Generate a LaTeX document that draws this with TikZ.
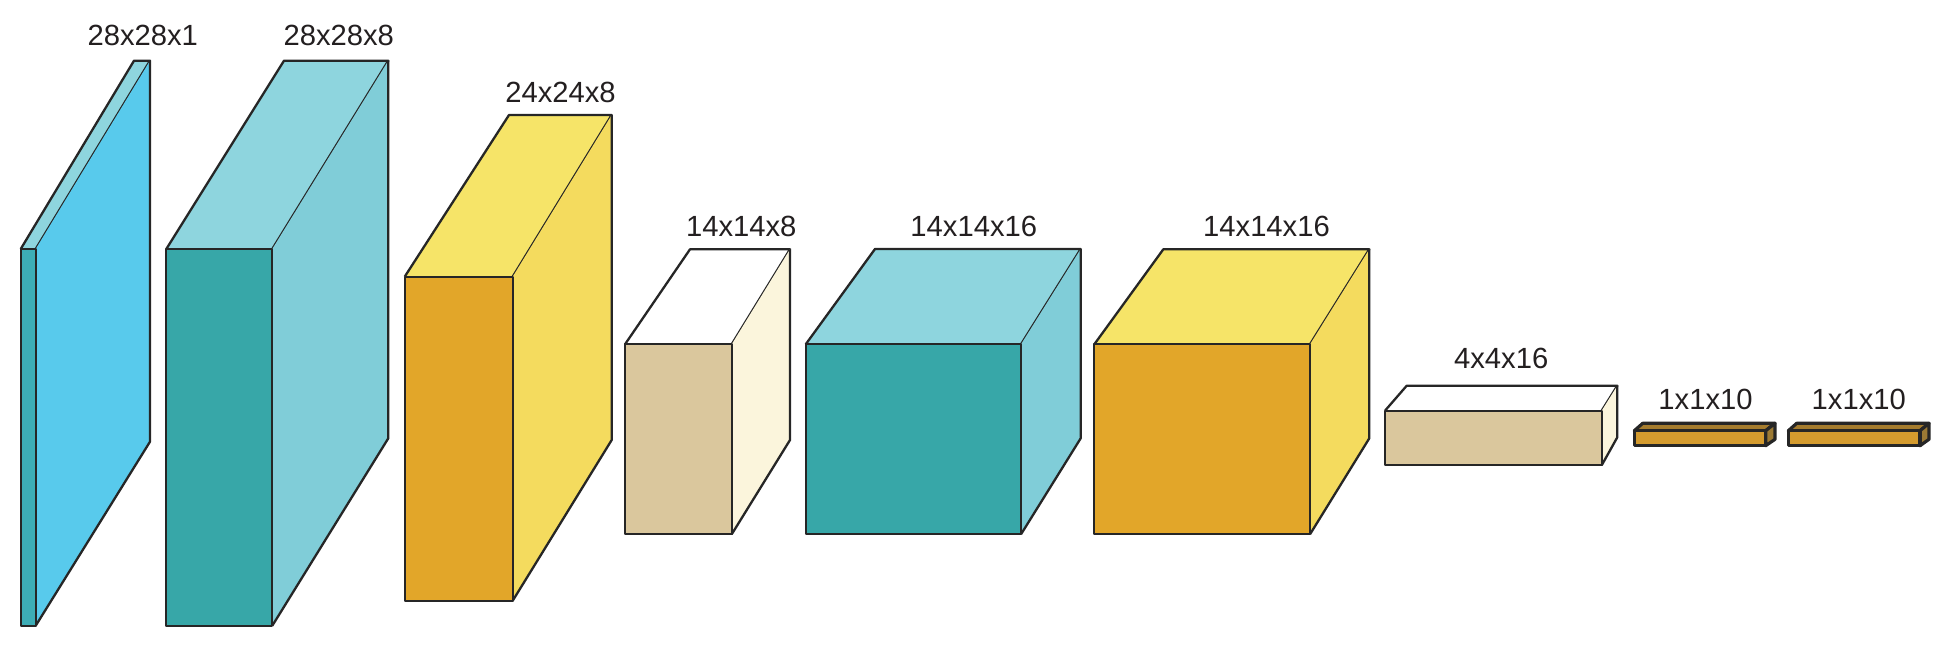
\documentclass[tikz,border=0pt]{standalone}
\usepackage{fontspec}
\setmainfont{Liberation Sans}
\definecolor{fr-teal}{HTML}{37A7A8}
\definecolor{tp-teal}{HTML}{8ED5DE}
\definecolor{sd-teal}{HTML}{80CDD8}
\definecolor{fr-in}{HTML}{3DADB6}
\definecolor{tp-in}{HTML}{8ED5DE}
\definecolor{sd-in}{HTML}{58CAEC}
\definecolor{fr-gold}{HTML}{E2A629}
\definecolor{tp-gold}{HTML}{F6E468}
\definecolor{sd-gold}{HTML}{F4DB5E}
\definecolor{fr-tan}{HTML}{DAC79D}
\definecolor{tp-tan}{HTML}{FFFFFF}
\definecolor{sd-tan}{HTML}{FBF5DC}
\definecolor{fr-out}{HTML}{D49B2E}
\definecolor{tp-out}{HTML}{A57C2E}
\definecolor{sd-out}{HTML}{9C7A34}
\definecolor{edge}{HTML}{262626}
\definecolor{labeltext}{HTML}{231F20}
\tikzset{
  face/.style={draw=edge, line width=1.15pt, line join=round},
  thickface/.style={draw=edge, line width=1.6pt, line join=round},
  dimlabel/.style={anchor=base, inner sep=0pt, text=labeltext, font=\fontsize{14.6}{17}\selectfont}
}
% #1 xL  #2 xR  #3 yT  #4 yB  (front face)
% #5 back xL  #6 back xR  #7 back yT  #8 back yB  #9 colour scheme
\newcommand\cuboid[9]{%
  \fill[tp-#9] (#1,#3) -- (#5,#7) -- (#6,#7) -- (#2,#3) -- cycle;
  \draw[face]  (#1,#3) -- (#5,#7) -- (#6,#7) -- (#2,#3);
  \fill[sd-#9] (#2,#3) -- (#6,#7) -- (#6,#8) -- (#2,#4) -- cycle;
  \draw[face]  (#6,#7) -- (#6,#8) -- (#2,#4);
  \filldraw[face, fill=fr-#9] (#1,#3) rectangle (#2,#4);
}
\newcommand\outbar[8]{%
  \filldraw[thickface, fill=tp-out] (#1,#3) -- (#5,#7) -- (#6,#7) -- (#2,#3) -- cycle;
  \filldraw[thickface, fill=sd-out] (#2,#3) -- (#6,#7) -- (#6,#8) -- (#2,#4) -- cycle;
  \filldraw[thickface, fill=fr-out] (#1,#3) rectangle (#2,#4);
}
\begin{document}
\begin{tikzpicture}[x=0.5pt, y=-0.5pt]
\useasboundingbox (0,0) rectangle (1950,648);

\cuboid{20.7}{35.7}{249}{625.7}{134}{150}{60.7}{441.7}{in}
\cuboid{166.3}{272.3}{249}{625.7}{284}{388.3}{60.7}{438.3}{teal}
\cuboid{404.7}{512.7}{276.7}{600.7}{509}{611.7}{115}{440}{gold}
\cuboid{625}{731.7}{344.3}{534.3}{690}{790}{249.3}{440}{tan}
\cuboid{805.7}{1021}{344.3}{534.3}{875}{1080.7}{249}{438.3}{teal}
\cuboid{1094.3}{1310}{344.3}{534.3}{1163.3}{1369.3}{249.3}{438.3}{gold}
\cuboid{1385}{1601.7}{410.7}{465.3}{1406.7}{1617.3}{385.7}{437.3}{tan}
\outbar{1634.3}{1765.7}{430.7}{445.7}{1642.7}{1775}{423.3}{439.3}
\outbar{1788.3}{1920}{430.7}{445.7}{1796.7}{1929}{423.3}{439.3}

\node[dimlabel] (l1) at (142.8,46) {28x28x1};
\node[dimlabel] (l2) at (338.8,46) {28x28x8};
\node[dimlabel] (l3) at (560.5,102.7) {24x24x8};
\node[dimlabel] (l4) at (741.3,236) {14x14x8};
\node[dimlabel] (l5) at (973.8,236) {14x14x16};
\node[dimlabel] (l6) at (1266.5,236) {14x14x16};
\node[dimlabel] (l7) at (1501.2,368.3) {4x4x16};
\node[dimlabel] (l8) at (1705.5,409) {1x1x10};
\node[dimlabel] (l9) at (1858.8,409) {1x1x10};
\end{tikzpicture}
\end{document}
